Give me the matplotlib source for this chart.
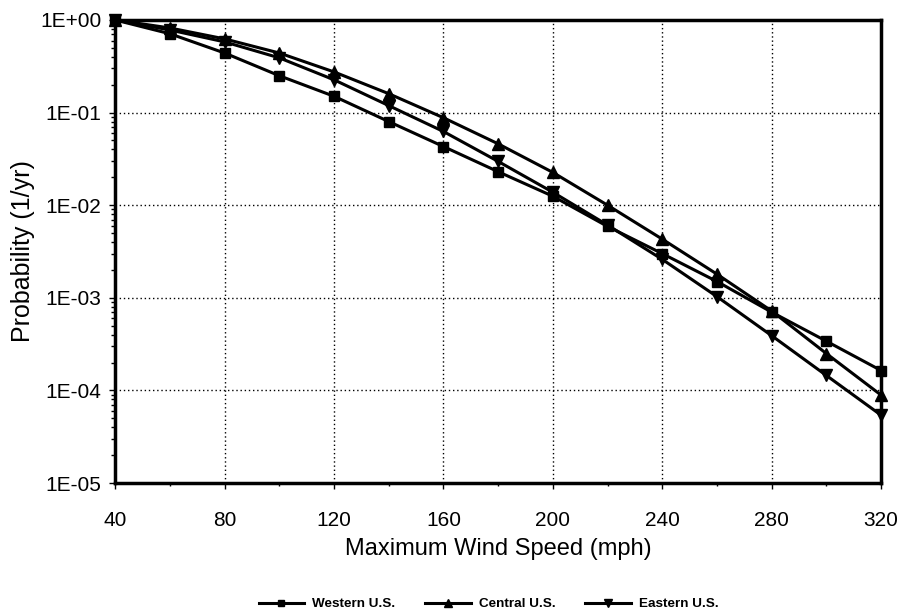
import numpy as np
import matplotlib
matplotlib.use('Agg')
import matplotlib.pyplot as plt
from matplotlib.ticker import FuncFormatter, LogLocator, MultipleLocator

plt.rcParams['font.family'] = ['Liberation Sans', 'DejaVu Sans']

# data
speed = [40, 60, 80, 100, 120, 140, 160, 180, 200, 220, 240, 260, 280, 300, 320]
western = [1.0, 0.71, 0.44, 0.25, 0.15, 0.08, 0.043, 0.023, 0.0125, 0.0059,
           0.0030, 0.0015, 0.00070, 0.00034, 0.000164]
central = [1.0, 0.82, 0.625, 0.44, 0.275, 0.16, 0.088, 0.046, 0.0226, 0.0100,
           0.0043, 0.0018, 0.00072, 0.00025, 0.000089]
eastern = [1.0, 0.78, 0.58, 0.39, 0.226, 0.119, 0.0625, 0.0297, 0.0138, 0.0061,
           0.0026, 0.00103, 0.00039, 0.000145, 0.000054]

fig = plt.figure(figsize=(9, 6.15), dpi=100)
ax = fig.add_axes([0.128, 0.2146, 0.851, 0.7529])

ax.plot(speed, western, color='black', lw=2.2, marker='s', ms=7.5, label='Western U.S.', clip_on=False, zorder=3)
ax.plot(speed, central, color='black', lw=2.2, marker='^', ms=8.5, label='Central U.S.', clip_on=False, zorder=3)
ax.plot(speed, eastern, color='black', lw=2.2, marker='v', ms=8.5, label='Eastern U.S.', clip_on=False, zorder=3)

ax.set_yscale('log')
ax.set_ylim(1e-5, 1)
ax.set_xlim(40, 320)
ax.xaxis.set_major_locator(MultipleLocator(40))
ax.xaxis.set_minor_locator(MultipleLocator(20))
ax.yaxis.set_major_locator(LogLocator(base=10, numticks=10))
ax.yaxis.set_minor_locator(LogLocator(base=10, subs=np.arange(2, 10), numticks=10))
ax.yaxis.set_major_formatter(FuncFormatter(lambda v, p: '{:.0E}'.format(v)))
ax.yaxis.set_minor_formatter(FuncFormatter(lambda v, p: ''))

ax.grid(True, which='major', color='black', linestyle=(0, (1, 2)), lw=1.0)
for s in ax.spines.values():
    s.set_linewidth(2.5)

ax.tick_params(axis='both', which='major', labelsize=15, length=4, width=1, direction='out')
ax.tick_params(axis='x', which='minor', length=2, width=1)
ax.tick_params(axis='y', which='minor', length=3, width=1)
ax.tick_params(axis='x', which='major', pad=16)
ax.tick_params(axis='y', which='major', pad=6)

ax.set_xlabel('Maximum Wind Speed (mph)', fontsize=17, labelpad=6)
ax.set_ylabel('Probability (1/yr)', fontsize=18, labelpad=4)

fig.legend(loc='lower center', bbox_to_anchor=(0.543, -0.012), ncol=3, frameon=False,
           prop={'weight': 'bold', 'size': 9.7}, markerscale=0.6, handlelength=3.4,
           handletextpad=0.6, columnspacing=2.2)

plt.savefig('out.png', dpi=100)
